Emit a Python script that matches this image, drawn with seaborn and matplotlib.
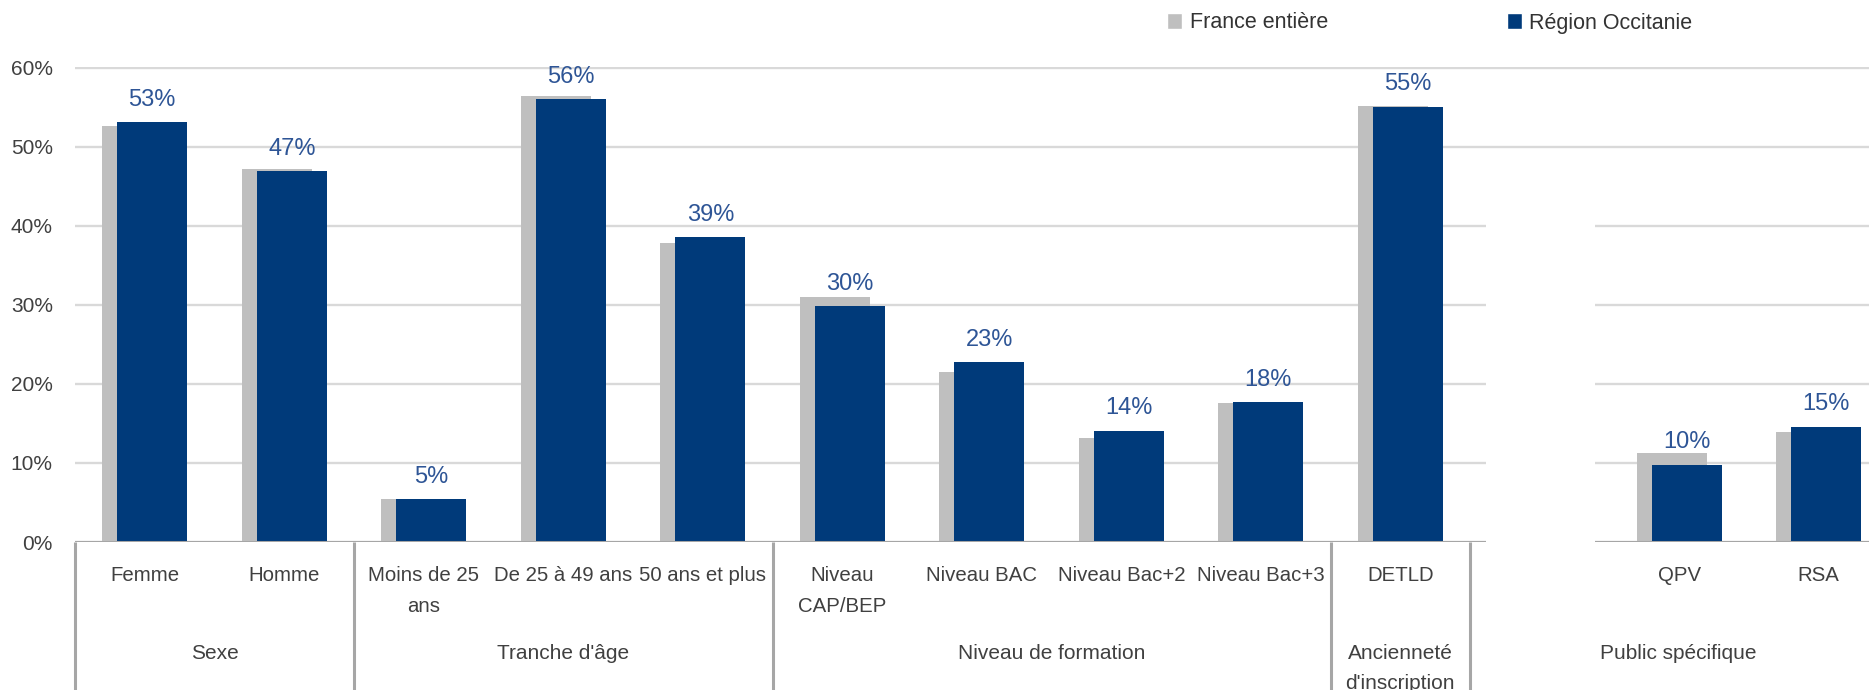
import numpy as np
import pandas as pd
import seaborn as sns
import matplotlib
matplotlib.use("Agg")
import matplotlib.pyplot as plt
from matplotlib.patches import Patch, Rectangle
from matplotlib.transforms import blended_transform_factory

# ---- data -------------------------------------------------------------
categories = ["Femme", "Homme", "Moins de 25\nans", "De 25 à 49 ans",
              "50 ans et plus", "Niveau\nCAP/BEP", "Niveau BAC",
              "Niveau Bac+2", "Niveau Bac+3", "DETLD", "QPV", "RSA"]
group_names = ["Sexe", "Tranche d'âge", "Niveau de formation",
               "Ancienneté\nd'inscription", "Public spécifique"]
group_sizes = [2, 3, 4, 1, 2]
france = [52.6, 47.2, 5.5, 56.4, 37.8, 31.0, 21.5, 13.1, 17.6, 55.2, 11.2, 13.9]
occitanie = [53.1, 46.9, 5.4, 56.0, 38.6, 29.8, 22.8, 14.1, 17.7, 55.1, 9.8, 14.6]
series_names = ["France entière", "Région Occitanie"]
yticks = [0, 0.1, 0.2, 0.3, 0.4, 0.5, 0.6]

# ---- style ------------------------------------------------------------
GREY = "#BFBFBF"
NAVY = "#003A7A"
LABEL_BLUE = "#2E5596"
TEXT = "#404040"
GRID = "#D9D9D9"
AXIS = "#A6A6A6"

sns.set_style("white")
plt.rcParams["font.family"] = ["Liberation Sans", "DejaVu Sans"]

# slot positions: the last group sits one empty slot further right
slots = []
s = 0
for name, size in zip(group_names, group_sizes):
    if name == "Public spécifique":
        s += 1
    for _ in range(size):
        slots.append(s)
        s += 1
slots = np.array(slots, dtype=float)

df = pd.DataFrame({"slot": slots,
                   "france": np.array(france) / 100,
                   "occitanie": np.array(occitanie) / 100})

W, H = 1869, 690
fig = plt.figure(figsize=(W / 100, H / 100), dpi=100)
slot_px = 139.5
ax = fig.add_axes([75 / W, (H - 542) / H, 13 * slot_px / W, (542 - 67) / H])

OFF = 0.054  # grey bar peeks out to the left of the navy bar
sns.barplot(x=df["slot"] - OFF, y=df["france"], native_scale=True, orient="x",
            width=0.5, color=GREY, saturation=1, errorbar=None, ax=ax,
            zorder=2, linewidth=0)
sns.barplot(x=df["slot"] + OFF, y=df["occitanie"], native_scale=True, orient="x",
            width=0.5, color=NAVY, saturation=1, errorbar=None, ax=ax,
            zorder=3, linewidth=0)

ax.set_xlim(-0.5, 12.5)
ax.set_ylim(0, 0.601)
for sp in ax.spines.values():
    sp.set_visible(False)

# gridlines and baseline
ax.set_axisbelow(True)
ax.yaxis.grid(True, color=GRID, linewidth=1.7)
ax.axhline(0, color=AXIS, linewidth=2.2, zorder=4)

ax.set_yticks(yticks, [f"{v:.0%}" for v in yticks])
ax.tick_params(axis="y", length=0, pad=16, labelsize=15, labelcolor=TEXT)
ax.set_xticks(slots, categories)
ax.tick_params(axis="x", length=0, pad=17.5, labelsize=14.7, labelcolor=TEXT)
for t in ax.get_xticklabels():
    t.set_linespacing(1.75)
ax.set_xlabel("")
ax.set_ylabel("")

# value labels on the regional bars
ax.bar_label(ax.containers[1], labels=[f"{v:.0%}" for v in df["occitanie"]],
             padding=8, fontsize=17, color=LABEL_BLUE)

# group dividers and group labels under the axis
trans = blended_transform_factory(ax.transData, ax.transAxes)
start = 0
bounds = [-0.5]
for name, size in zip(group_names, group_sizes):
    first = slots[start]
    last = slots[start + size - 1]
    if name == "Public spécifique":
        ax.text(first - 0.57, -0.215, name, transform=trans, ha="left", va="top",
                fontsize=15, color=TEXT)
    else:
        bounds.append(last + 0.5)
        ax.text((first + last) / 2, -0.215, name, transform=trans, ha="center",
                va="top", fontsize=15, color=TEXT, linespacing=1.75)
    start += size
for b in bounds:
    ax.plot([b, b], [0, -0.35], transform=trans, color=AXIS, linewidth=2.2,
            clip_on=False, zorder=4, solid_capstyle="butt")

# blank gutter separating the last group
ax.add_patch(Rectangle((9.615, -0.3), 10.396 - 9.615, 0.745, facecolor="white",
                       edgecolor="none", zorder=6, clip_on=False))

# legend
handles = [Patch(facecolor=GREY, label=series_names[0]),
           Patch(facecolor=NAVY, label=series_names[1])]
fig.legend(handles=handles, ncol=2, loc="center left",
           bbox_to_anchor=(1167 / W, 1 - 23 / H), frameon=False, fontsize=15.5,
           handlelength=0.7, handleheight=0.7, handletextpad=0.35,
           columnspacing=8.3, borderpad=0, borderaxespad=0, labelcolor="#333333")

fig.savefig("out.png", dpi=100)
